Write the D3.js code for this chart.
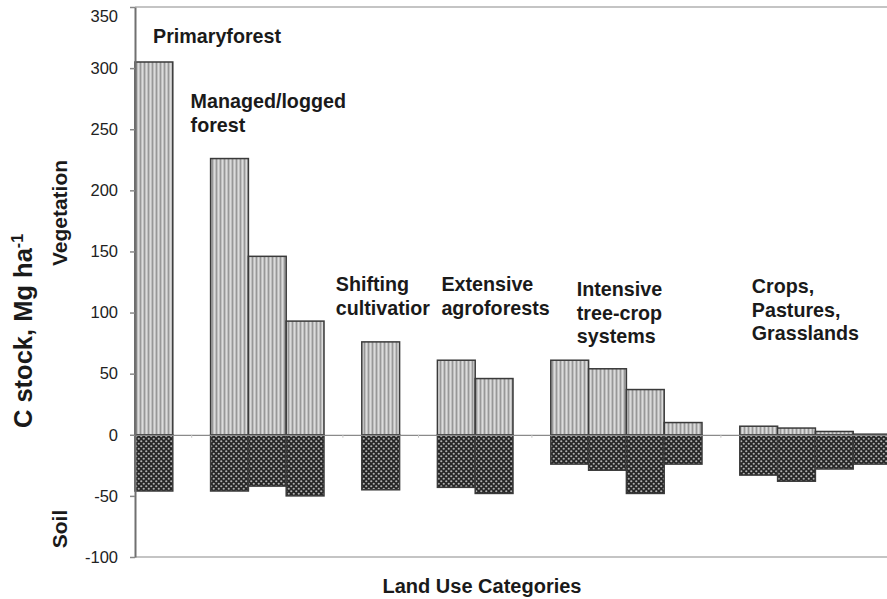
<!DOCTYPE html>
<html>
<head>
<meta charset="utf-8">
<script src="https://cdn.jsdelivr.net/npm/d3@7"></script>
<style>
  body { margin: 0; background: #fff; }
  svg { display: block; font-family: "Liberation Sans", Arial, Helvetica, sans-serif; }
</style>
</head>
<body>
<script>
// land use groups, bars per group (vegetation above zero, soil below)
var groups = ["Primaryforest", "Managed/logged forest", "Shifting cultivatior",
  "Extensive agroforests", "Intensive tree-crop systems", "Crops, Pastures, Grasslands"];
var vegetation = [[305], [226, 146, 93], [76], [61, 46], [61, 54, 37, 10], [7, 5.5, 2.7, 0.5]];
var soil = [[-46], [-46, -42, -50], [-45], [-43, -48], [-24, -29, -48, -24], [-33, -38, -28, -24]];
var yTicks = [-100, -50, 0, 50, 100, 150, 200, 250, 300, 350];
var groupLines = [["Primaryforest"], ["Managed/logged", "forest"], ["Shifting", "cultivatior"],
  ["Extensive", "agroforests"], ["Intensive", "tree-crop", "systems"], ["Crops,", "Pastures,", "Grasslands"]];

var svgWidth = 887, svgHeight = 599;
var plotLeft = 135, plotRight = 891, plotTop = 7, plotBottom = 557;

// build slots: bars of each group, then one empty slot
var slots = [];
var gapSlots = [];
var groupStart = [];
groups.forEach(function(g, gi) {
  groupStart.push(slots.length);
  vegetation[gi].forEach(function(v, i) {
    slots.push({id: slots.length, group: gi, veg: v, soil: soil[gi][i]});
  });
  if (gi < groups.length - 1) {
    gapSlots.push(slots.length);
    slots.push({id: slots.length, group: -1});
  }
});

var svg = d3.select("body").append("svg")
  .attr("width", svgWidth)
  .attr("height", svgHeight);

var defs = svg.append("defs");

// vertical stripes for vegetation
var vp = defs.append("pattern").attr("id", "vegPat")
  .attr("patternUnits", "userSpaceOnUse").attr("width", 4).attr("height", 4);
vp.append("rect").attr("width", 4).attr("height", 4).attr("fill", "#c0c0c0");
vp.append("rect").attr("x", 0).attr("width", 1).attr("height", 4).attr("fill", "#989898");
vp.append("rect").attr("x", 2).attr("width", 1).attr("height", 4).attr("fill", "#dcdcdc");

// dark checker with light dots for soil
var sp = defs.append("pattern").attr("id", "soilPat")
  .attr("patternUnits", "userSpaceOnUse").attr("width", 5).attr("height", 5);
sp.append("rect").attr("width", 5).attr("height", 5).attr("fill", "#262626");
sp.append("circle").attr("cx", 1.25).attr("cy", 1.25).attr("r", 1.1).attr("fill", "#b0b0b0");
sp.append("circle").attr("cx", 3.75).attr("cy", 3.75).attr("r", 1.1).attr("fill", "#b0b0b0");

var x = d3.scaleBand().domain(slots.map(function(d) { return d.id; }))
  .range([plotLeft, plotRight]).padding(0);
var y = d3.scaleLinear().domain([-100, 350]).range([plotBottom, plotTop]);

// top and bottom frame lines
svg.append("line").attr("x1", plotLeft).attr("x2", plotRight)
  .attr("y1", y(350)).attr("y2", y(350))
  .attr("stroke", "#c4c4c4").attr("stroke-width", 2);
svg.append("line").attr("x1", plotLeft).attr("x2", plotRight)
  .attr("y1", y(-100)).attr("y2", y(-100))
  .attr("stroke", "#c4c4c4").attr("stroke-width", 2);

var bars = slots.filter(function(d) { return d.group >= 0; });

svg.append("g").selectAll("rect")
  .data(bars).enter().append("rect")
  .attr("x", function(d) { return x(d.id); })
  .attr("width", x.bandwidth())
  .attr("y", function(d) { return y(d.veg); })
  .attr("height", function(d) { return y(0) - y(d.veg); })
  .attr("fill", "url(#vegPat)")
  .attr("stroke", "#3a3a3a").attr("stroke-width", 1.5);

svg.append("g").selectAll("rect")
  .data(bars).enter().append("rect")
  .attr("x", function(d) { return x(d.id); })
  .attr("width", x.bandwidth())
  .attr("y", y(0))
  .attr("height", function(d) { return y(d.soil) - y(0); })
  .attr("fill", "url(#soilPat)")
  .attr("stroke", "#3a3a3a").attr("stroke-width", 1.5);

// zero line with small ticks in the gaps
var xAxis = d3.axisBottom(x).tickValues(gapSlots).tickFormat("").tickSize(3).tickSizeOuter(0);
var xg = svg.append("g").attr("transform", "translate(0," + y(0) + ")").call(xAxis);
xg.select(".domain").attr("stroke", "#8a8a8a").attr("stroke-width", 1.2);
xg.selectAll(".tick line").attr("stroke", "#c8c8c8");

// y axis (plain hyphen for negatives, as in the original)
var yAxis = d3.axisLeft(y).tickValues(yTicks).tickSize(5).tickSizeOuter(0).tickPadding(12)
  .tickFormat(function(d) { return String(d); });
var yg = svg.append("g").attr("transform", "translate(" + plotLeft + ",0)").call(yAxis);
yg.select(".domain").attr("stroke", "#707070").attr("stroke-width", 2);
yg.selectAll(".tick line").attr("stroke", "#888").attr("stroke-width", 1.5);
yg.selectAll(".tick text").attr("font-size", 16.5).attr("fill", "#222")
  .attr("font-family", "'Liberation Sans', Arial, sans-serif");
// top label sits a little lower so it stays inside the picture
yg.selectAll(".tick text").filter(function(d) { return d === 350; }).attr("dy", "0.85em");

// group labels
var labelPos = [[18, 43], [-20, 108], [-26, 291], [4, 291], [26, 296], [12, 293]];
groupLines.forEach(function(lines, gi) {
  var t = svg.append("text")
    .attr("x", x(groupStart[gi]) + labelPos[gi][0])
    .attr("y", labelPos[gi][1])
    .attr("font-size", 19.7).attr("font-weight", "bold").attr("fill", "#1a1a1a");
  lines.forEach(function(l, li) {
    t.append("tspan").attr("x", x(groupStart[gi]) + labelPos[gi][0])
      .attr("dy", li === 0 ? 0 : 23.5).text(l);
  });
});

// axis titles
svg.append("text")
  .attr("transform", "translate(482,593)")
  .attr("text-anchor", "middle")
  .attr("font-size", 20).attr("font-weight", "bold").attr("fill", "#1a1a1a")
  .text("Land Use Categories");

var yt = svg.append("text")
  .attr("transform", "translate(32,331) rotate(-90)")
  .attr("text-anchor", "middle")
  .attr("font-size", 25.5).attr("font-weight", "bold").attr("fill", "#1a1a1a");
yt.append("tspan").text("C stock, Mg ha");
yt.append("tspan").attr("dy", -9).attr("font-size", 16).text("-1");

svg.append("text")
  .attr("transform", "translate(67,213) rotate(-90)")
  .attr("text-anchor", "middle")
  .attr("font-size", 21).attr("font-weight", "bold").attr("fill", "#1a1a1a")
  .text("Vegetation");

svg.append("text")
  .attr("transform", "translate(67,529) rotate(-90)")
  .attr("text-anchor", "middle")
  .attr("font-size", 21).attr("font-weight", "bold").attr("fill", "#1a1a1a")
  .text("Soil");
</script>
</body>
</html>
